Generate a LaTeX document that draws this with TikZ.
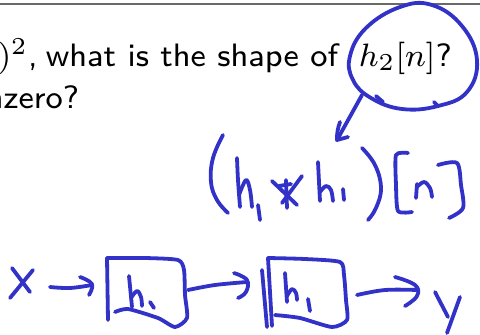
\documentclass[tikz,border=0pt]{standalone}
\begin{document}
\definecolor{ink}{RGB}{50,50,200}
\definecolor{rule}{RGB}{105,105,105}
\begin{tikzpicture}[x=1pt,y=-1pt,
  pen/.style={draw=ink,line width=3.8pt,line cap=round,line join=round},
  slide/.style={inner sep=0pt,font=\fontsize{8}{10}\sffamily,scale=4.05,transform shape}]
\useasboundingbox (0,0) rectangle (480,335);
\clip (0,0) rectangle (480,335);
% slide rule
\draw[rule,line width=1.4pt] (0,4) -- (480,4);
% slide text
\node[slide,anchor=base west] (line1a) at (-3,66) {$)^2$,};
\node[slide,anchor=base west] (line1b) at (45,66) {what is the shape of};
\node[slide,anchor=base west] (line1c) at (358,66) {$h_2[n]$?};
\node[slide,anchor=base west] (line2) at (-15,108) {nzero?};
% circle around h2[n]
\draw[pen] plot[smooth cycle,tension=0.7] coordinates {(400,7) (432,5) (462,26) (477,60) (467,92) (438,106) (402,109) (371,98) (353,80) (350,56) (366,28)};
\draw[pen] (376,96) -- (383,102);
\draw[pen] (434,102) -- (437,105);
% arrow to handwritten expression
\coordinate (cstart) at (362,95);
\coordinate (ctip) at (337,140);
\draw[pen] (cstart) -- (ctip);
\draw[pen] (340,122) to[bend right=10] (ctip) -- (348,137);
% (h1 * h1)[n]
\draw[pen] plot[smooth,tension=0.7] coordinates {(223,135) (213,158) (211,182) (217,200) (228,213)};
\draw[pen] plot[smooth,tension=0.6] coordinates {(237,158) (238,180) (240,207)};
\draw[pen] plot[smooth,tension=0.6] coordinates {(239,195) (246,180) (250,190) (252,207)};
\draw[pen] (258,205) -- (260,220);
\draw[pen] (286,180) -- (287,208);
\draw[pen] (272,181) -- (297,205);
\draw[pen] (302,176) -- (282,203);
\draw[pen] (279,186) -- (291,184);
\draw[pen] plot[smooth,tension=0.6] coordinates {(318,162) (319,182) (320,201)};
\draw[pen] plot[smooth,tension=0.6] coordinates {(320,192) (326,186) (331,190) (333,201)};
\draw[pen] (343,189) -- (344,200);
\draw[pen] plot[smooth,tension=0.7] coordinates {(362,148) (375,165) (381,188) (376,208) (368,220)};
\draw[pen] plot[smooth,tension=0.4] coordinates {(408,153) (396,155) (396,185) (398,211) (412,212)};
\draw[pen] (417,184) -- (416,198);
\draw[pen] plot[smooth,tension=0.6] coordinates {(417,187) (424,182) (430,188) (432,197)};
\draw[pen] plot[smooth,tension=0.5] coordinates {(438,165) (457,163) (461,185) (463,208) (449,218)};
% block diagram
\coordinate (xin) at (50,287);
\coordinate (b1in) at (92,285);
\coordinate (b1out) at (188,290);
\coordinate (b2in) at (247,282);
\coordinate (b2out) at (357,295);
\coordinate (yin) at (417,290);
% x
\draw[pen] (12,268) -- (30,292);
\draw[pen] (33,270) -- (10,298);
% arrow 1
\draw[pen] plot[smooth,tension=0.6] coordinates {(xin) (70,288) (b1in)};
\draw[pen] plot[smooth,tension=0.7] coordinates {(80,277) (92,284) (89,295)};
% box 1
\draw[pen] (108,320) -- (107,258);
\draw[pen] plot[smooth,tension=0.4] coordinates {(107,258) (145,258) (178,260) (184,270) (185,295) (187,318) (175,327) (158,318) (128,309) (115,312)};
% h1 in box 1
\draw[pen] (129,276) -- (132,307);
\draw[pen] plot[smooth,tension=0.6] coordinates {(131,298) (137,291) (141,297) (142,306)};
\draw[pen] (150,302) -- (154,308);
% arrow 2
\draw[pen] plot[smooth,tension=0.6] coordinates {(b1out) (215,285) (b2in)};
\draw[pen] plot[smooth,tension=0.7] coordinates {(234,273) (247,280) (246,292) (238,298)};
% box 2
\draw[pen] (262,270) -- (267,327);
\draw[pen] (272,326) -- (268,258);
\draw[pen] plot[smooth,tension=0.4] coordinates {(268,258) (305,259) (340,262) (344,275) (346,300) (347,320) (332,327) (300,318) (275,315)};
% h1 in box 2
\draw[pen] (285,273) -- (287,302);
\draw[pen] plot[smooth,tension=0.6] coordinates {(287,296) (292,289) (296,293) (297,300)};
\draw[pen] (308,299) -- (310,311);
% arrow 3
\draw[pen] plot[smooth,tension=0.6] coordinates {(b2out) (385,290) (yin)};
\draw[pen] plot[smooth,tension=0.7] coordinates {(395,277) (415,285) (417,296) (405,306)};
% y
\draw[pen] (435,292) -- (448,317);
\draw[pen] (460,297) -- (447,333);
\end{tikzpicture}
\end{document}
